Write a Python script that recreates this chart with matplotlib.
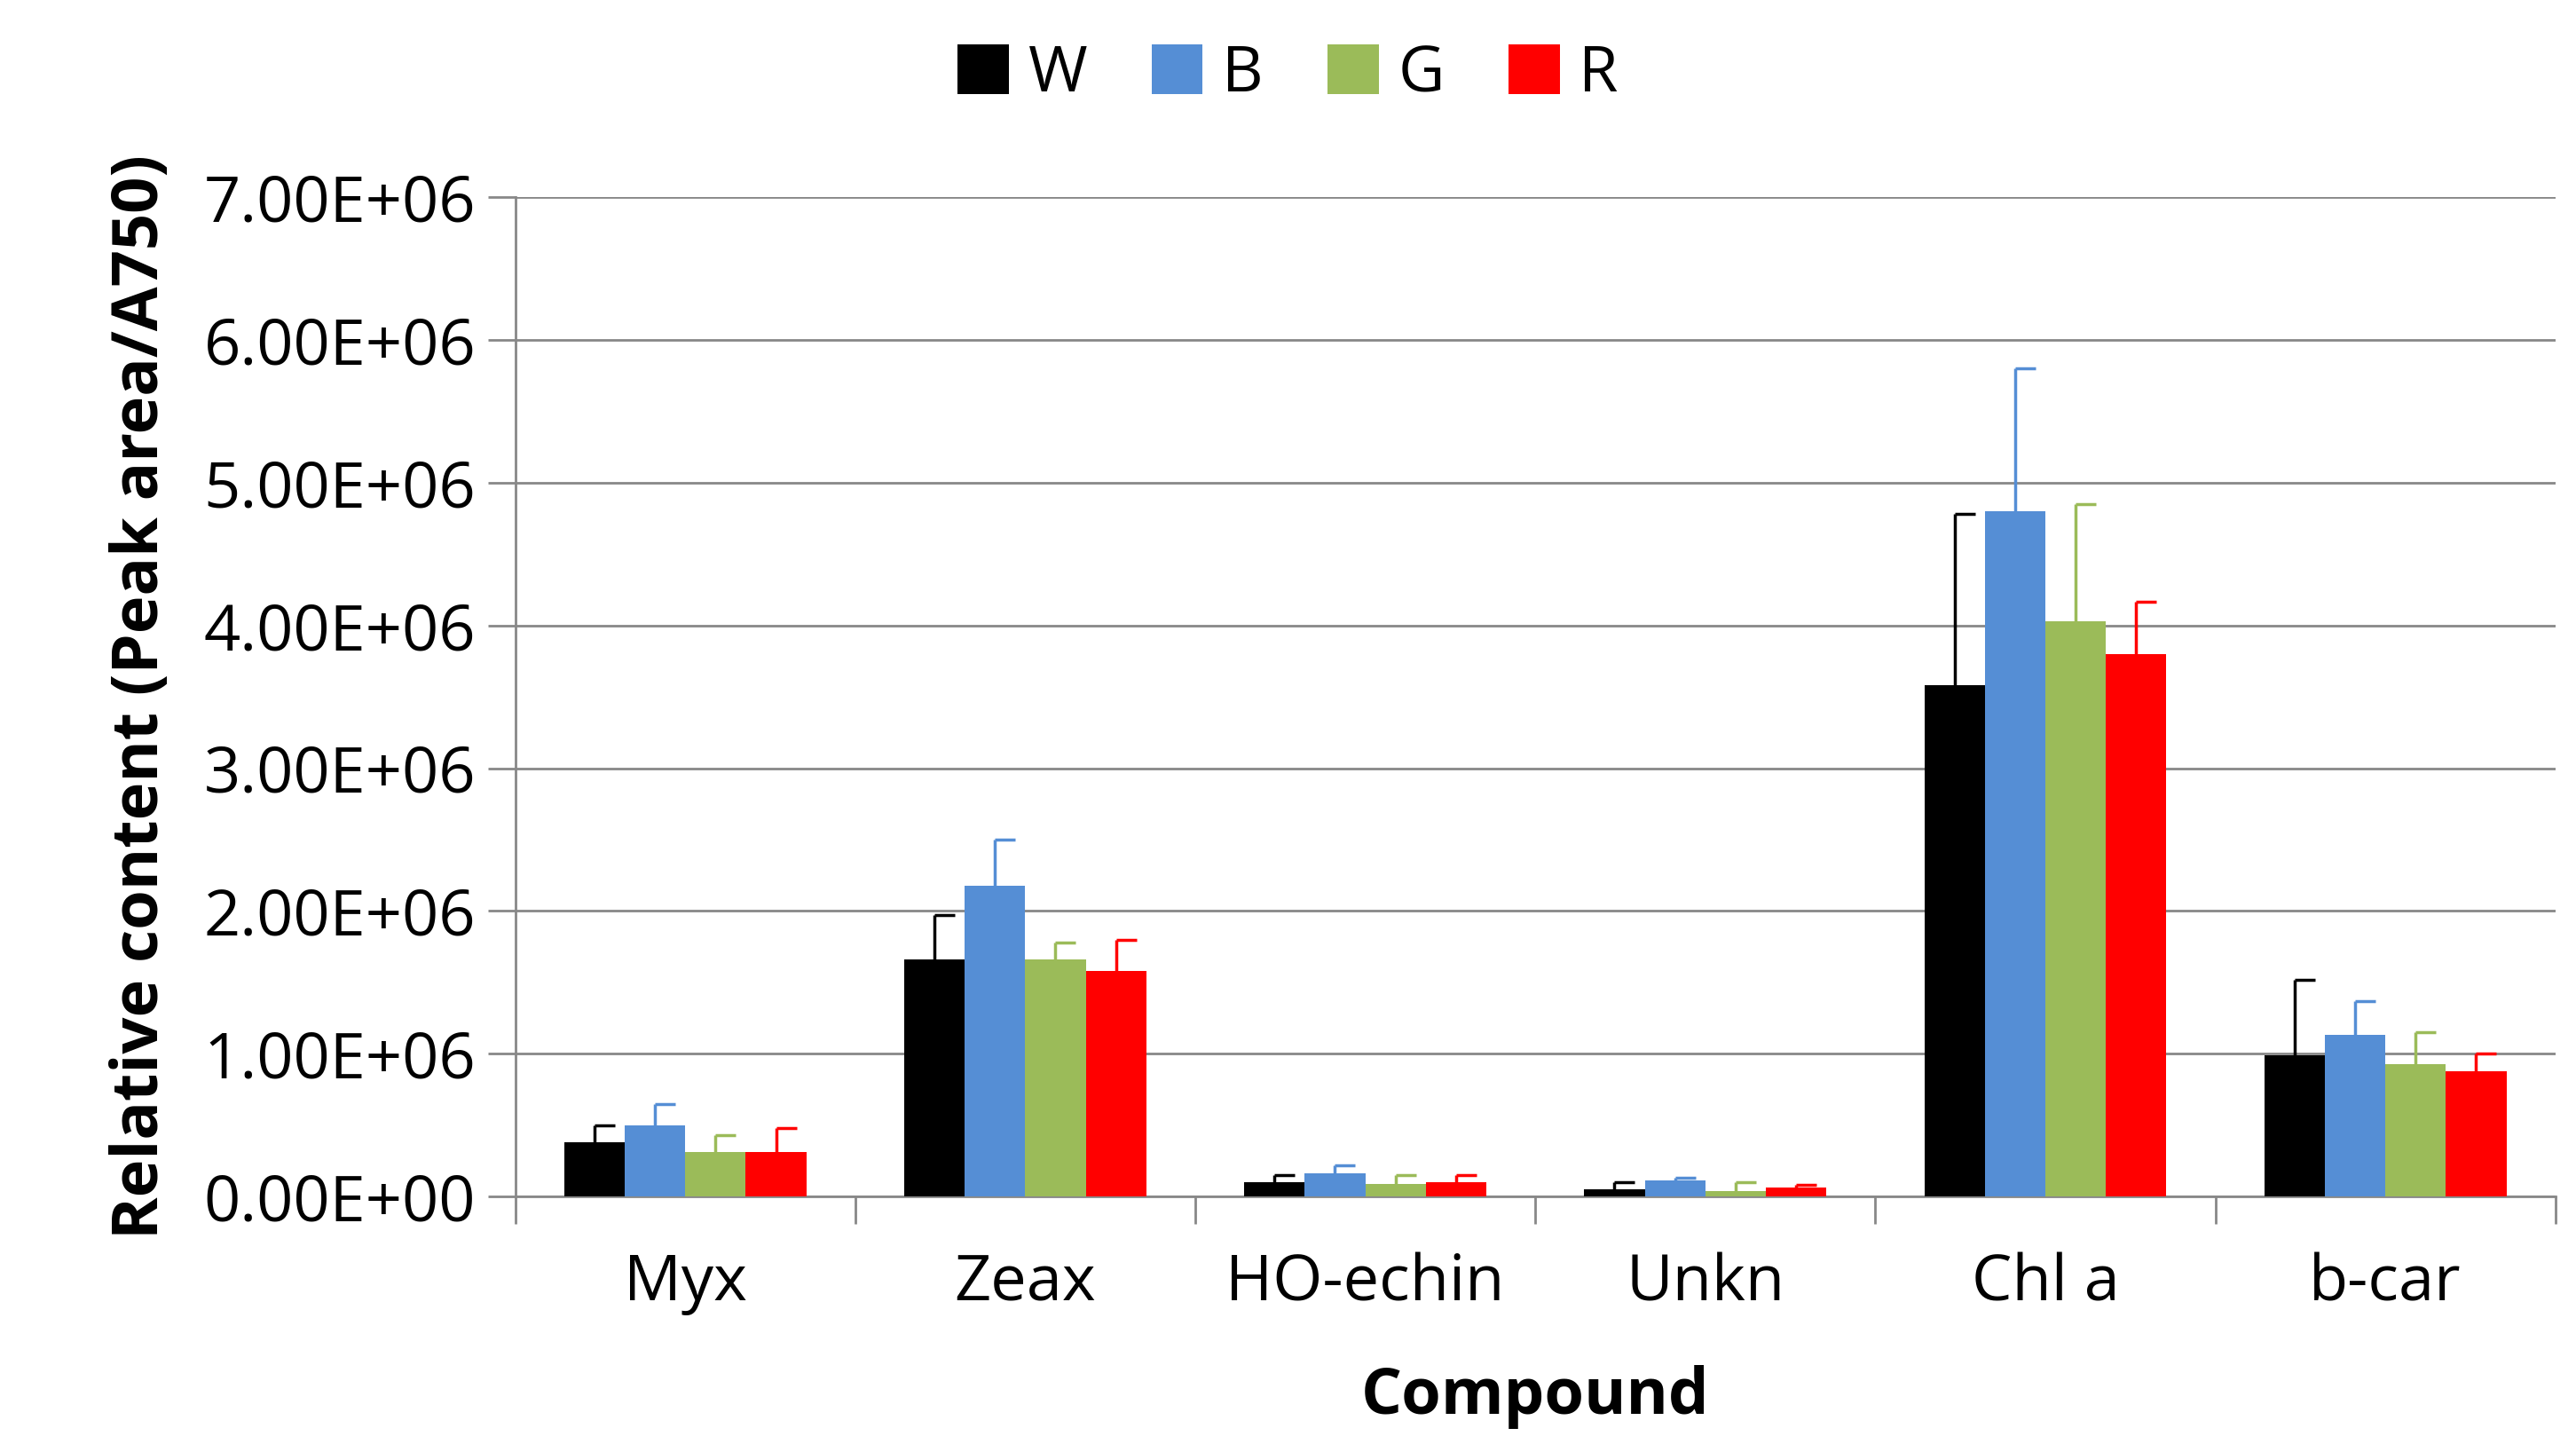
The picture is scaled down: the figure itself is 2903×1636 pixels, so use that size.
import numpy as np
import matplotlib
matplotlib.use("Agg")
import matplotlib.pyplot as plt

compounds = ["Myx", "Zeax", "HO-echin", "Unkn", "Chl a", "b-car"]
series = ["W", "B", "G", "R"]
colors = ["#000000", "#558ED5", "#9BBB59", "#FF0000"]
values = {
    "W": [0.38e6, 1.66e6, 0.10e6, 0.05e6, 3.58e6, 0.99e6],
    "B": [0.50e6, 2.18e6, 0.16e6, 0.11e6, 4.80e6, 1.13e6],
    "G": [0.31e6, 1.66e6, 0.09e6, 0.04e6, 4.03e6, 0.93e6],
    "R": [0.31e6, 1.58e6, 0.10e6, 0.06e6, 3.80e6, 0.88e6],
}
errors = {
    "W": [0.12e6, 0.31e6, 0.05e6, 0.05e6, 1.20e6, 0.53e6],
    "B": [0.15e6, 0.32e6, 0.06e6, 0.02e6, 1.00e6, 0.24e6],
    "G": [0.12e6, 0.12e6, 0.06e6, 0.06e6, 0.82e6, 0.22e6],
    "R": [0.17e6, 0.22e6, 0.05e6, 0.02e6, 0.37e6, 0.12e6],
}

plt.rcParams["font.family"] = ["Open Sans", "DejaVu Sans"]
fig = plt.figure(figsize=(29.03, 16.36), dpi=100)
ax = fig.add_axes([0.2, 0.176, 0.792, 0.688])

x = np.arange(len(compounds))
w = 0.178
cap = 0.06
for i, s in enumerate(series):
    pos = x + (i - 1.5) * w
    v = np.array(values[s])
    top = v + np.array(errors[s])
    ax.bar(pos, v, w, color=colors[i], label=s, zorder=3)
    ax.vlines(pos, v, top, color=colors[i], linewidth=2.5, zorder=4)
    ax.hlines(top, pos, pos + cap, color=colors[i], linewidth=2.5, zorder=4)

ax.set_ylim(0, 7e6)
ax.set_xlim(-0.5, len(compounds) - 0.5)
ticks = np.arange(0, 7.01e6, 1e6)
ax.set_yticks(ticks)
ax.set_yticklabels([f"{v:.2E}" for v in ticks])
ax.yaxis.grid(True, color="#888888", linewidth=2, zorder=0)
ax.set_xticks(x)
ax.set_xticklabels(compounds)
ax.set_xticks(np.arange(-0.5, len(compounds)), minor=True)
ax.tick_params(axis="x", which="major", length=0, labelsize=52, pad=45)
ax.tick_params(axis="x", which="minor", length=22, width=2, color="#888888")
ax.tick_params(axis="y", length=22, width=2, color="#888888", labelsize=52, pad=10)
for side in ["top", "right"]:
    ax.spines[side].set_visible(False)
for side in ["left", "bottom"]:
    ax.spines[side].set_color("#888888")
    ax.spines[side].set_linewidth(2)

ax.set_xlabel("Compound", fontsize=52, fontweight="bold", labelpad=40)
ax.set_ylabel("Relative content (Peak area/A750)", fontsize=52, fontweight="bold", labelpad=25)

fig.legend(loc="upper center", bbox_to_anchor=(0.5, 1.01), ncol=4, frameon=False,
           fontsize=52, handlelength=0.8, handleheight=0.8, handletextpad=0.3,
           columnspacing=1.0)

fig.savefig("out.png", dpi=100)
